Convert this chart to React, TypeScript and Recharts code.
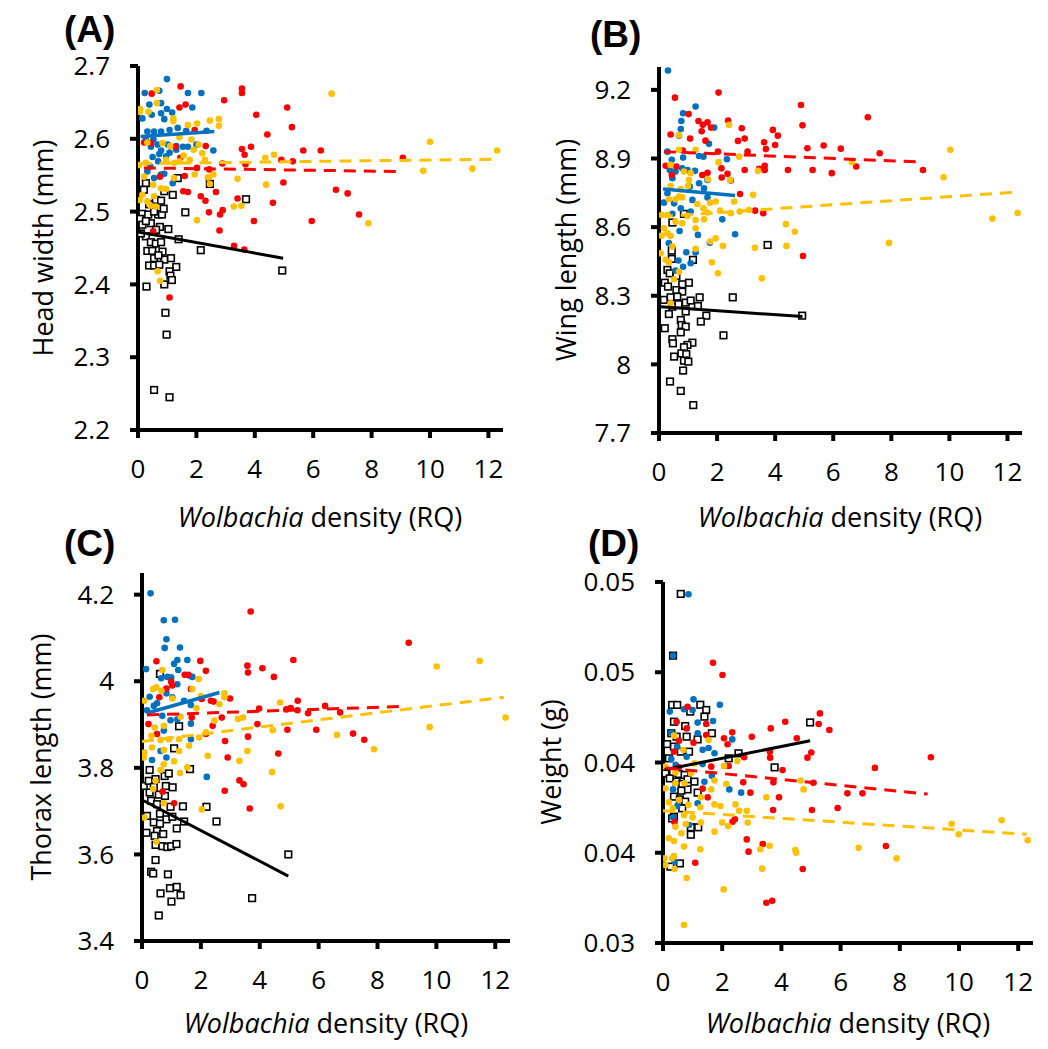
import React from 'react';
import { ScatterChart, Scatter, XAxis, YAxis } from 'recharts';

type Pt = [number, number];

const X_TICKS = [0, 2, 4, 6, 8, 10, 12];
const X_TITLE_ITALIC = 'Wolbachia';
const X_TITLE_REST = ' density (RQ)';

// (A) head width, mm
const A_BLACK: Pt[] = [
  [1.36, 2.546], [2.46, 2.538], [0.27, 2.539], [0.9, 2.528], [1.19, 2.523], [0.61, 2.516], [0.79, 2.515],
  [3.7, 2.517], [0.15, 2.497], [0.35, 2.496], [0.69, 2.496], [0.82, 2.496], [1.62, 2.499], [0.07, 2.49],
  [0.15, 2.482], [0.44, 2.484], [0.75, 2.479], [1.04, 2.476], [0.27, 2.466], [0.44, 2.458], [0.61, 2.456],
  [0.79, 2.458], [1.39, 2.462], [0.32, 2.446], [0.49, 2.446], [0.84, 2.445], [2.15, 2.447], [0.55, 2.436],
  [0.9, 2.434], [1.13, 2.436], [0.38, 2.426], [0.55, 2.426], [0.73, 2.427], [1.31, 2.424], [1.08, 2.418],
  [1.11, 2.412], [1.16, 2.406], [0.9, 2.4], [0.29, 2.397], [0.94, 2.361], [0.98, 2.331], [0.55, 2.255],
  [1.08, 2.245], [4.94, 2.419], [0.38, 2.51], [0.88, 2.504], [0.27, 2.487], [0.2, 2.53], [0.55, 2.5],
  [0.62, 2.475], [0.1, 2.47], [0.7, 2.44],
];
const A_BLUE: Pt[] = [
  [0.99, 2.682], [0.23, 2.663], [0.73, 2.666], [1.71, 2.663], [2.17, 2.663], [0.39, 2.647], [0.79, 2.649],
  [1.86, 2.643], [0.99, 2.641], [0.15, 2.628], [0.47, 2.633], [0.79, 2.635], [1.17, 2.636], [0.9, 2.627],
  [0.32, 2.61], [0.55, 2.61], [0.79, 2.61], [1.08, 2.612], [1.36, 2.615], [1.65, 2.611], [2.35, 2.611],
  [0.27, 2.599], [0.44, 2.589], [0.67, 2.592], [0.79, 2.584], [1.08, 2.581], [1.31, 2.59], [1.54, 2.589],
  [1.71, 2.589], [2.58, 2.584], [0.5, 2.575], [0.73, 2.579], [0.96, 2.576], [0.42, 2.562], [0.32, 2.555],
  [0.69, 2.569], [0.79, 2.551], [0.55, 2.546], [1.19, 2.539], [0.9, 2.552], [1.31, 2.585], [1.02, 2.592],
  [2.0, 2.592], [0.53, 2.599],
];
const A_RED: Pt[] = [
  [1.46, 2.672], [0.47, 2.662], [3.56, 2.669], [3.56, 2.663], [2.95, 2.653], [1.42, 2.643], [1.63, 2.647],
  [5.11, 2.643], [5.27, 2.616], [4.05, 2.633], [4.43, 2.606], [1.94, 2.612], [1.28, 2.589], [2.32, 2.59],
  [3.56, 2.586], [3.87, 2.589], [3.65, 2.578], [0.21, 2.595], [0.44, 2.594], [1.45, 2.574], [2.02, 2.56],
  [2.44, 2.558], [2.89, 2.566], [3.68, 2.565], [4.91, 2.571], [5.3, 2.569], [0.75, 2.548], [1.6, 2.549],
  [1.55, 2.528], [1.71, 2.527], [2.67, 2.527], [2.15, 2.521], [2.31, 2.515], [3.41, 2.518], [2.43, 2.499],
  [2.9, 2.502], [2.81, 2.496], [3.97, 2.487], [4.62, 2.512], [2.79, 2.474], [3.29, 2.453], [3.64, 2.448],
  [0.52, 2.473], [1.08, 2.382], [2.4, 2.546], [5.66, 2.584], [6.26, 2.584], [4.98, 2.54], [6.78, 2.53],
  [7.18, 2.525], [5.95, 2.487], [7.57, 2.496], [9.07, 2.574],
];
const A_YELLOW: Pt[] = [
  [0.07, 2.641], [0.06, 2.637], [0.36, 2.637], [0.65, 2.667], [0.65, 2.649], [1.21, 2.628], [1.21, 2.624],
  [1.71, 2.619], [2.02, 2.621], [2.46, 2.625], [2.77, 2.627], [2.77, 2.618], [1.42, 2.602], [1.83, 2.599],
  [0.32, 2.595], [0.84, 2.594], [1.1, 2.59], [1.91, 2.585], [2.08, 2.592], [2.2, 2.58], [1.56, 2.577],
  [1.77, 2.571], [0.03, 2.564], [0.27, 2.567], [0.96, 2.571], [1.25, 2.567], [1.42, 2.569], [0.21, 2.548],
  [0.52, 2.537], [0.79, 2.532], [0.96, 2.531], [1.23, 2.546], [1.94, 2.551], [2.4, 2.547], [2.58, 2.551],
  [2.46, 2.538], [0.15, 2.523], [0.06, 2.516], [0.32, 2.514], [0.44, 2.508], [0.61, 2.507], [3.41, 2.545],
  [3.28, 2.507], [3.54, 2.508], [2.02, 2.488], [4.39, 2.537], [4.66, 2.578], [4.36, 2.574], [0.67, 2.418],
  [0.76, 2.405], [0.55, 2.521], [2.29, 2.571], [6.63, 2.662], [10.0, 2.596], [9.77, 2.556], [11.45, 2.559],
  [7.89, 2.484], [12.3, 2.584],
];
const A_TREND_BLACK: Pt[] = [[0, 2.472], [4.97, 2.436]];
const A_TREND_BLUE: Pt[] = [[0.09, 2.603], [2.61, 2.61]];
const A_TREND_RED: Pt[] = [[0.2, 2.56], [9.08, 2.555]];
const A_TREND_YELLOW: Pt[] = [[0.05, 2.566], [12.3, 2.572]];

// (B) wing length, mm
const B_BLACK: Pt[] = [
  [0.86, 8.658], [0.46, 8.62], [3.74, 8.522], [0.44, 8.497], [0.44, 8.461], [1.17, 8.457], [0.29, 8.413],
  [0.37, 8.398], [0.6, 8.387], [1.03, 8.357], [0.2, 8.357], [0.8, 8.35], [0.31, 8.34], [0.6, 8.325],
  [0.8, 8.318], [0.17, 8.282], [0.4, 8.293], [0.63, 8.296], [0.92, 8.27], [1.09, 8.279], [1.4, 8.293],
  [2.54, 8.293], [1.34, 8.255], [0.46, 8.252], [0.67, 8.263], [0.92, 8.231], [1.63, 8.213], [0.34, 8.22],
  [0.75, 8.194], [1.44, 8.187], [0.78, 8.172], [0.92, 8.165], [0.2, 8.158], [0.75, 8.14], [2.22, 8.127],
  [0.46, 8.11], [0.48, 8.092], [1.15, 8.095], [0.98, 8.085], [0.86, 8.075], [0.77, 8.048], [0.94, 8.045],
  [0.52, 8.034], [0.86, 8.016], [1.01, 8.012], [0.83, 7.973], [0.38, 7.925], [0.75, 7.884], [1.18, 7.822],
  [4.93, 8.213],
];
const B_BLUE: Pt[] = [
  [0.31, 9.285], [1.26, 9.127], [0.83, 9.098], [0.77, 9.064], [0.75, 9.029], [1.9, 9.035], [0.69, 8.999],
  [0.29, 8.93], [1.72, 8.964], [0.44, 8.894], [0.83, 8.904], [1.38, 8.911], [1.53, 8.908], [2.34, 8.897],
  [0.37, 8.85], [0.57, 8.843], [0.8, 8.857], [0.98, 8.85], [1.24, 8.846], [1.67, 8.806], [0.46, 8.814],
  [1.38, 8.792], [1.06, 8.777], [1.55, 8.77], [0.29, 8.748], [0.52, 8.704], [1.15, 8.719], [1.67, 8.73],
  [0.17, 8.707], [0.75, 8.682], [1.09, 8.668], [0.46, 8.658], [2.18, 8.634], [0.71, 8.583], [1.34, 8.566],
  [2.62, 8.569], [0.34, 8.53], [1.75, 8.532], [0.94, 8.49], [1.26, 8.489], [0.67, 8.454], [0.83, 8.427],
  [1.09, 8.442], [0.57, 8.41],
];
const B_RED: Pt[] = [
  [2.05, 9.188], [0.55, 9.166], [1.02, 9.094], [1.36, 9.064], [1.67, 9.058], [1.51, 9.047], [1.47, 9.019],
  [1.79, 9.035], [2.38, 9.066], [2.85, 9.032], [0.4, 9.005], [1.07, 8.987], [1.6, 8.978], [2.72, 8.977],
  [2.95, 8.987], [3.62, 8.971], [3.92, 9.025], [4.09, 9.0], [4.0, 8.959], [3.68, 8.941], [3.05, 8.93],
  [2.03, 8.93], [0.82, 8.935], [0.23, 8.868], [0.6, 8.865], [1.49, 8.828], [1.67, 8.838], [2.15, 8.857],
  [2.36, 8.833], [2.95, 8.85], [3.45, 8.855], [3.64, 8.868], [3.64, 8.85], [4.44, 8.85], [4.89, 9.134],
  [4.94, 9.045], [5.11, 8.945], [5.29, 8.85], [2.16, 8.817], [2.47, 8.804], [2.79, 8.745], [3.31, 8.672],
  [3.59, 8.661], [4.96, 8.474], [0.44, 8.828], [5.67, 8.957], [6.26, 8.943], [7.19, 9.08], [7.6, 8.923],
  [5.95, 8.836], [6.79, 8.865], [9.09, 8.85],
];
const B_YELLOW: Pt[] = [
  [2.41, 9.047], [0.69, 9.002], [0.69, 8.938], [1.26, 8.938], [2.05, 8.884], [0.39, 8.872], [2.76, 8.908],
  [3.41, 8.846], [2.45, 8.806], [0.86, 8.843], [1.09, 8.836], [1.69, 8.809], [1.03, 8.806], [0.4, 8.78],
  [0.75, 8.766], [1.0, 8.78], [0.69, 8.734], [0.34, 8.722], [0.57, 8.722], [0.8, 8.73], [1.32, 8.701],
  [1.76, 8.707], [1.95, 8.712], [2.59, 8.712], [3.24, 8.741], [1.53, 8.682], [2.1, 8.672], [2.47, 8.661],
  [0.09, 8.653], [0.29, 8.653], [0.98, 8.649], [1.67, 8.664], [2.78, 8.668], [3.1, 8.675], [0.57, 8.624],
  [0.8, 8.617], [1.26, 8.631], [1.55, 8.634], [1.26, 8.595], [0.17, 8.595], [0.29, 8.573], [0.09, 8.563],
  [0.4, 8.561], [1.76, 8.537], [1.95, 8.551], [2.2, 8.518], [3.3, 8.51], [4.39, 8.518], [4.68, 8.58],
  [4.37, 8.613], [1.26, 8.505], [0.46, 8.515], [0.06, 8.486], [0.23, 8.457], [0.34, 8.446], [0.52, 8.372],
  [0.69, 8.405], [1.82, 8.446], [2.03, 8.398], [3.54, 8.376], [0.4, 8.267], [6.64, 8.884], [10.03, 8.938],
  [9.8, 8.818], [11.48, 8.637], [12.35, 8.662], [7.92, 8.531],
];
const B_TREND_BLACK: Pt[] = [[0.06, 8.252], [4.94, 8.209]];
const B_TREND_BLUE: Pt[] = [[0.14, 8.767], [2.62, 8.738]];
const B_TREND_RED: Pt[] = [[0.17, 8.93], [9.11, 8.884]];
const B_TREND_YELLOW: Pt[] = [[0.06, 8.646], [12.39, 8.754]];

// (C) thorax length, mm
const C_BLACK: Pt[] = [
  [0.61, 4.017], [1.26, 3.896], [1.09, 3.845], [1.63, 3.797], [0.26, 3.795], [0.77, 3.781], [0.91, 3.787],
  [0.06, 3.758], [0.23, 3.77], [0.46, 3.774], [0.4, 3.756], [0.81, 3.758], [1.04, 3.755], [0.26, 3.743],
  [0.57, 3.738], [0.78, 3.735], [0.31, 3.724], [0.51, 3.716], [0.97, 3.71], [1.39, 3.711], [2.19, 3.71],
  [0.17, 3.689], [0.61, 3.694], [0.83, 3.681], [1.03, 3.687], [1.43, 3.676], [2.53, 3.676], [0.4, 3.674],
  [0.61, 3.671], [0.15, 3.65], [0.51, 3.654], [0.72, 3.647], [1.18, 3.66], [0.43, 3.643], [0.46, 3.622],
  [0.69, 3.619], [0.86, 3.617], [0.99, 3.619], [1.17, 3.624], [4.97, 3.6], [0.46, 3.587], [0.31, 3.56],
  [0.38, 3.556], [0.88, 3.554], [0.95, 3.522], [1.18, 3.525], [1.31, 3.506], [0.63, 3.51], [1.0, 3.491],
  [0.57, 3.459], [3.74, 3.499],
];
const C_BLUE: Pt[] = [
  [0.29, 4.203], [0.74, 4.141], [1.12, 4.142], [0.83, 4.097], [0.77, 4.077], [1.29, 4.078], [0.14, 4.028],
  [1.2, 4.049], [1.54, 4.049], [1.23, 4.026], [0.65, 4.007], [0.86, 4.01], [0.99, 4.009], [1.6, 4.013],
  [1.71, 4.01], [1.2, 3.993], [0.26, 3.964], [0.83, 3.972], [1.03, 3.963], [1.43, 3.955], [1.66, 3.945],
  [0.17, 3.933], [0.4, 3.943], [0.69, 3.92], [0.97, 3.91], [1.2, 3.912], [1.66, 3.902], [0.74, 3.886],
  [0.63, 3.839], [0.83, 3.824], [0.34, 3.818], [1.66, 3.866], [1.09, 4.04], [2.2, 3.779], [0.51, 3.949],
];
const C_RED: Pt[] = [
  [3.69, 4.161], [1.98, 4.047], [0.49, 4.046], [1.45, 4.015], [1.57, 4.015], [2.17, 4.024], [0.99, 3.999],
  [1.03, 3.99], [0.83, 3.983], [1.66, 3.982], [0.59, 3.963], [3.58, 4.036], [3.6, 4.02], [4.09, 4.03],
  [4.48, 4.01], [5.14, 4.049], [2.99, 3.96], [2.34, 3.955], [2.43, 3.953], [2.03, 3.959], [2.71, 3.916],
  [1.69, 3.916], [3.98, 3.937], [3.92, 3.901], [5.05, 3.938], [5.29, 3.955], [0.22, 3.901], [0.51, 3.878],
  [2.4, 3.897], [2.17, 3.878], [3.6, 3.872], [2.82, 3.862], [2.91, 3.824], [4.63, 3.833], [3.31, 3.771],
  [3.45, 3.762], [2.81, 3.747], [0.7, 3.745], [1.09, 3.718], [3.66, 3.706], [9.06, 4.089], [4.9, 3.935],
  [5.28, 3.933], [5.64, 3.926], [6.22, 3.943], [6.73, 3.928], [5.92, 3.888], [7.17, 3.879], [7.55, 3.865],
  [4.94, 3.888],
];
const C_YELLOW: Pt[] = [
  [0.69, 4.026], [0.49, 3.986], [0.38, 3.982], [0.66, 3.978], [1.03, 3.96], [0.08, 3.955], [1.93, 4.005],
  [1.71, 3.982], [2.0, 3.966], [2.8, 3.972], [2.63, 3.947], [1.85, 3.938], [2.8, 3.963], [1.31, 3.918],
  [0.43, 3.893], [0.74, 3.897], [2.46, 3.909], [0.32, 3.874], [0.63, 3.864], [0.91, 3.866], [1.26, 3.866],
  [1.6, 3.851], [1.94, 3.87], [2.17, 3.882], [3.26, 3.913], [3.43, 3.916], [4.69, 3.951], [4.44, 3.887],
  [0.08, 3.835], [0.34, 3.847], [0.74, 3.841], [1.26, 3.839], [0.06, 3.824], [1.09, 3.815], [0.74, 3.808],
  [2.23, 3.828], [3.58, 3.839], [3.31, 3.816], [1.54, 3.801], [1.29, 3.788], [0.63, 3.795], [0.46, 3.77],
  [0.38, 3.751], [0.74, 3.718], [2.03, 3.704], [4.42, 3.79], [4.71, 3.711], [0.08, 3.685], [0.49, 3.629],
  [6.62, 3.876], [7.88, 3.843], [9.77, 3.894], [10.01, 4.034], [11.47, 4.047], [12.35, 3.916],
];
const C_TREND_BLACK: Pt[] = [[0.06, 3.724], [4.97, 3.55]];
const C_TREND_BLUE: Pt[] = [[0.15, 3.926], [2.63, 3.974]];
const C_TREND_RED: Pt[] = [[0.17, 3.922], [9.0, 3.942]];
const C_TREND_YELLOW: Pt[] = [[0.0, 3.861], [12.29, 3.963]];

// (D) weight, g
const D_BLACK: Pt[] = [
  [0.6, 0.04934], [0.34, 0.04592], [0.31, 0.04319], [0.48, 0.04319], [1.26, 0.0432], [0.92, 0.04282],
  [1.46, 0.04291], [1.4, 0.04254], [0.37, 0.04226], [0.75, 0.04202], [1.65, 0.04162], [0.28, 0.04162],
  [0.46, 0.04143], [0.8, 0.04143], [1.17, 0.04128], [0.14, 0.04102], [0.37, 0.04088], [0.6, 0.0406],
  [0.88, 0.0406], [0.2, 0.04023], [2.55, 0.04051], [2.22, 0.04023], [3.77, 0.03973], [0.08, 0.0394],
  [0.34, 0.03944], [0.54, 0.03936], [0.73, 0.03931], [0.23, 0.03912], [0.46, 0.03894], [0.65, 0.03881],
  [0.83, 0.03907], [1.06, 0.03894], [0.83, 0.03851], [0.62, 0.03844], [1.17, 0.03833], [0.37, 0.03811],
  [0.57, 0.03796], [0.75, 0.03783], [0.37, 0.037], [0.65, 0.03746], [0.94, 0.03641], [1.19, 0.03641],
  [0.94, 0.036], [0.57, 0.03441], [0.25, 0.03423], [4.97, 0.04222], [0.31, 0.0369],
];
const D_BLUE: Pt[] = [
  [0.86, 0.04932], [0.34, 0.04592], [1.03, 0.0435], [1.92, 0.0432], [0.71, 0.04295], [1.0, 0.04291],
  [0.23, 0.04282], [1.69, 0.0423], [1.17, 0.04221], [0.28, 0.04165], [1.17, 0.04162], [2.34, 0.04128],
  [0.48, 0.04088], [1.34, 0.0407], [1.74, 0.04051], [1.54, 0.0408], [0.8, 0.04032], [0.28, 0.0402],
  [0.43, 0.03987], [1.34, 0.03991], [1.65, 0.03927], [1.4, 0.03893], [0.34, 0.03851], [2.24, 0.03851],
  [2.64, 0.03833], [0.48, 0.03759], [1.17, 0.03774], [0.34, 0.03696], [0.88, 0.03654], [0.39, 0.03451],
];
const D_RED: Pt[] = [
  [1.69, 0.04553], [2.01, 0.04485], [0.83, 0.04309], [0.46, 0.04226], [0.8, 0.04189], [1.46, 0.04213],
  [2.34, 0.04167], [2.06, 0.04134], [1.03, 0.0411], [2.18, 0.04101], [3.0, 0.04143], [3.64, 0.04189],
  [4.13, 0.04226], [4.52, 0.04134], [5.01, 0.04055], [3.61, 0.0406], [3.62, 0.04027], [4.04, 0.03958],
  [2.74, 0.04029], [2.22, 0.03981], [1.63, 0.03977], [0.37, 0.0406], [0.54, 0.04121], [1.46, 0.04152],
  [0.54, 0.03973], [1.34, 0.03855], [2.71, 0.0389], [3.73, 0.0389], [2.95, 0.03833], [3.92, 0.03807],
  [1.51, 0.03807], [3.72, 0.03737], [5.03, 0.03737], [2.43, 0.03685], [2.35, 0.03672], [0.39, 0.0367],
  [2.83, 0.03574], [2.89, 0.03506], [3.37, 0.03548], [4.72, 0.0341], [1.09, 0.03445], [3.49, 0.03223],
  [3.69, 0.03234], [5.3, 0.04272], [5.26, 0.04213], [5.62, 0.0418], [4.88, 0.04027], [7.16, 0.0397],
  [9.05, 0.04029], [5.08, 0.03888], [6.23, 0.03829], [6.74, 0.03829], [5.9, 0.03748], [7.53, 0.03537],
];
const D_YELLOW: Pt[] = [
  [0.37, 0.04149], [0.69, 0.04069], [1.54, 0.04125], [0.08, 0.03977], [1.06, 0.03995], [2.06, 0.03981],
  [2.51, 0.04008], [0.42, 0.03944], [0.94, 0.0394], [1.74, 0.039], [0.08, 0.03857], [0.42, 0.03885],
  [0.73, 0.03885], [2.14, 0.03881], [1.63, 0.03851], [1.28, 0.03807], [3.49, 0.03807], [4.75, 0.03851],
  [4.65, 0.039], [0.2, 0.03779], [0.54, 0.03792], [0.86, 0.03765], [1.74, 0.03768], [1.94, 0.03759],
  [2.45, 0.03768], [2.57, 0.03733], [2.83, 0.03733], [0.33, 0.03746], [1.26, 0.03752], [0.71, 0.03709],
  [1.0, 0.03696], [0.42, 0.03644], [0.77, 0.03659], [1.28, 0.03668], [2.0, 0.03668], [2.2, 0.03648],
  [1.74, 0.03617], [2.86, 0.03668], [0.62, 0.03608], [0.2, 0.0358], [0.37, 0.03565], [0.71, 0.03534],
  [1.26, 0.03519], [3.29, 0.03519], [3.6, 0.03539], [4.47, 0.03515], [4.5, 0.035], [0.37, 0.03482],
  [0.05, 0.03469], [0.31, 0.03469], [0.08, 0.03432], [0.39, 0.0341], [0.8, 0.0336], [2.05, 0.03297],
  [3.35, 0.03412], [0.71, 0.031], [6.61, 0.03528], [7.89, 0.03469], [9.75, 0.03661], [9.99, 0.03602],
  [11.44, 0.0368], [12.32, 0.03569],
];
const D_TREND_BLACK: Pt[] = [[0.05, 0.0396], [4.97, 0.0412]];
const D_TREND_RED: Pt[] = [[0.08, 0.0397], [8.94, 0.03825]];
const D_TREND_YELLOW: Pt[] = [[0.0, 0.03733], [12.29, 0.03602]];
const D_TICKS = [0.03, 0.035, 0.04, 0.045, 0.05];
const D_TICK_LABELS = ['0.03', '0.04', '0.04', '0.05', '0.05'];

const BLUE = '#0070C0';
const RED = '#FF0000';
const YELLOW = '#FFC000';
const FONT = '"Open Sans", sans-serif';
const Y_AXIS_W = 60;
const X_AXIS_H = 60;

const xy = (pts: Pt[]) => pts.map(([x, y]) => ({ x, y }));

const Dot = (color: string) => (p: any) => <circle cx={p.cx} cy={p.cy} r={3.3} fill={color} />;
const Square = (p: any) => (
  <rect x={p.cx - 3.3} y={p.cy - 3.3} width={6.6} height={6.6} fill="#fff" stroke="#000" strokeWidth={1.6} />
);
const NoMark = () => <g />;

const axisLine = { stroke: '#000', strokeWidth: 4 };
const tickStyle = { fontSize: 26, fill: '#000', fontFamily: FONT };

interface PanelProps {
  left: number; top: number; width: number; height: number;
  plot: { top: number; right: number; bottom: number; left: number };
  yDomain: [number, number]; yTicks: number[]; yFormat?: (v: number) => string;
  black: Pt[]; blue: Pt[]; red: Pt[]; yellow: Pt[];
  tBlack: Pt[]; tBlue?: Pt[]; tRed: Pt[]; tYellow: Pt[];
}

const Panel = (p: PanelProps) => (
  <div style={{ position: 'absolute', left: p.left, top: p.top }}>
    <ScatterChart width={p.width} height={p.height}
      margin={{ top: p.plot.top, right: p.plot.right, bottom: p.plot.bottom - X_AXIS_H, left: p.plot.left - Y_AXIS_W }}>
      <XAxis type="number" dataKey="x" domain={[0, 12.5]} ticks={X_TICKS} interval={0} allowDataOverflow
        height={X_AXIS_H} axisLine={axisLine} tickLine={axisLine} tickSize={8} tickMargin={22} tick={tickStyle} />
      <YAxis type="number" dataKey="y" domain={p.yDomain} ticks={p.yTicks} interval={0} allowDataOverflow
        width={Y_AXIS_W} axisLine={axisLine} tickLine={axisLine} tickSize={8} tickMargin={20} tick={tickStyle}
        tickFormatter={p.yFormat} />
      <Scatter data={xy(p.black)} shape={Square} isAnimationActive={false} />
      <Scatter data={xy(p.blue)} shape={Dot(BLUE)} isAnimationActive={false} />
      <Scatter data={xy(p.red)} shape={Dot(RED)} isAnimationActive={false} />
      <Scatter data={xy(p.yellow)} shape={Dot(YELLOW)} isAnimationActive={false} />
      <Scatter data={xy(p.tBlack)} shape={NoMark} line={{ stroke: '#000', strokeWidth: 3 }} isAnimationActive={false} />
      {p.tBlue && (
        <Scatter data={xy(p.tBlue)} shape={NoMark} line={{ stroke: BLUE, strokeWidth: 3.5 }} isAnimationActive={false} />
      )}
      <Scatter data={xy(p.tRed)} shape={NoMark} line={{ stroke: RED, strokeWidth: 3, strokeDasharray: '12 8' }} isAnimationActive={false} />
      <Scatter data={xy(p.tYellow)} shape={NoMark} line={{ stroke: YELLOW, strokeWidth: 3, strokeDasharray: '12 8' }} isAnimationActive={false} />
    </ScatterChart>
  </div>
);

const XTitle = ({ cx, cy }: { cx: number; cy: number }) => (
  <div style={{ position: 'absolute', left: cx, top: cy, transform: 'translate(-50%, -50%)', whiteSpace: 'nowrap', fontSize: 27 }}>
    <i>{X_TITLE_ITALIC}</i>{X_TITLE_REST}
  </div>
);
const YTitle = ({ cx, cy, text }: { cx: number; cy: number; text: string }) => (
  <div style={{ position: 'absolute', left: cx, top: cy, transform: 'translate(-50%, -50%) rotate(-90deg)', whiteSpace: 'nowrap', fontSize: 27 }}>
    {text}
  </div>
);
const Tag = ({ x, y, text }: { x: number; y: number; text: string }) => (
  <div style={{ position: 'absolute', left: x, top: y, fontSize: 37, fontWeight: 'bold', lineHeight: '34px', fontFamily: '"Liberation Sans", Arial, sans-serif' }}>
    {text}
  </div>
);

export default function App() {
  return (
    <div style={{ position: 'absolute', left: 0, top: 0, width: 1048, height: 1049, background: '#fff', fontFamily: FONT, color: '#000' }}>
      <Panel left={0} top={0} width={520} height={510} plot={{ top: 66, right: 17, bottom: 80, left: 138 }}
        yDomain={[2.2, 2.7]} yTicks={[2.2, 2.3, 2.4, 2.5, 2.6, 2.7]}
        black={A_BLACK} blue={A_BLUE} red={A_RED} yellow={A_YELLOW}
        tBlack={A_TREND_BLACK} tBlue={A_TREND_BLUE} tRed={A_TREND_RED} tYellow={A_TREND_YELLOW} />
      <Panel left={520} top={0} width={528} height={510} plot={{ top: 67, right: 26, bottom: 77, left: 139 }}
        yDomain={[7.7, 9.3]} yTicks={[7.7, 8, 8.3, 8.6, 8.9, 9.2]}
        black={B_BLACK} blue={B_BLUE} red={B_RED} yellow={B_YELLOW}
        tBlack={B_TREND_BLACK} tBlue={B_TREND_BLUE} tRed={B_TREND_RED} tYellow={B_TREND_YELLOW} />
      <Panel left={0} top={510} width={520} height={539} plot={{ top: 63, right: 10, bottom: 108, left: 142 }}
        yDomain={[3.4, 4.25]} yTicks={[3.4, 3.6, 3.8, 4, 4.2]}
        black={C_BLACK} blue={C_BLUE} red={C_RED} yellow={C_YELLOW}
        tBlack={C_TREND_BLACK} tBlue={C_TREND_BLUE} tRed={C_TREND_RED} tYellow={C_TREND_YELLOW} />
      <Panel left={520} top={510} width={528} height={539} plot={{ top: 72, right: 15, bottom: 106, left: 143 }}
        yDomain={[0.03, 0.05]} yTicks={D_TICKS}
        yFormat={(v: number) => D_TICK_LABELS[D_TICKS.findIndex((t) => Math.abs(t - v) < 1e-9)] ?? String(v)}
        black={D_BLACK} blue={D_BLUE} red={D_RED} yellow={D_YELLOW}
        tBlack={D_TREND_BLACK} tRed={D_TREND_RED} tYellow={D_TREND_YELLOW} />

      <XTitle cx={320} cy={516} />
      <XTitle cx={840} cy={516} />
      <XTitle cx={326} cy={1022} />
      <XTitle cx={848} cy={1022} />
      <YTitle cx={42} cy={248} text="Head width (mm)" />
      <YTitle cx={565} cy={250} text="Wing length (mm)" />
      <YTitle cx={40} cy={757} text="Thorax length (mm)" />
      <YTitle cx={550} cy={762} text="Weight (g)" />
      <Tag x={64} y={13} text="(A)" />
      <Tag x={590} y={18} text="(B)" />
      <Tag x={64} y={527} text="(C)" />
      <Tag x={588} y={527} text="(D)" />
    </div>
  );
}
